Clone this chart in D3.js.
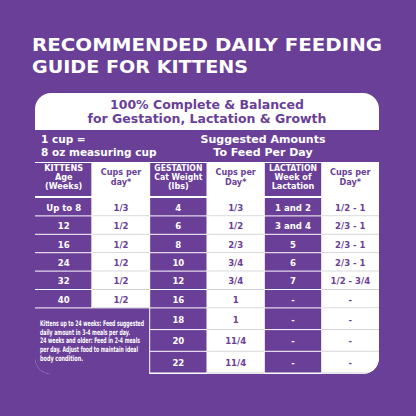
<!DOCTYPE html><html><head><meta charset="utf-8">
<script src="https://d3js.org/d3.v7.min.js"></script>
<style>body{margin:0;background:#6a3f98}</style></head><body>
<script>
const title = ["RECOMMENDED DAILY FEEDING","GUIDE FOR KITTENS"];
const subtitle = ["100% Complete & Balanced","for Gestation, Lactation & Growth"];
const bandLeft = ["1 cup =","8 oz measuring cup"];
const bandRight = ["Suggested Amounts","To Feed Per Day"];
const headers = [["KITTENS","Age","(Weeks)"],["Cups per","day*"],["GESTATION","Cat Weight","(lbs)"],["Cups per","Day*"],["LACTATION","Week of","Lactation"],["Cups per","Day*"]];
const kittenAge = ["Up to 8","12","16","24","32","40"];
const kittenCups = ["1/3","1/2","1/2","1/2","1/2","1/2"];
const gestWeight = ["4","6","8","10","12","16","18","20","22"];
const gestCups = ["1/3","1/2","2/3","3/4","3/4","1","1","11/4","11/4"];
const lactWeek = ["1 and 2","3 and 4","5","6","7","-","-","-","-"];
const lactCups = ["1/2 - 1","2/3 - 1","2/3 - 1","2/3 - 1","1/2 - 3/4","-","-","-","-"];
const note = ["Kittens up to 24 weeks: Feed suggested","daily amount in 3-4 meals per day.","24 weeks and older: Feed in 2-4 meals","per day. Adjust food to maintain ideal","body condition."];
const rowHeights = [18.4,18.4,18.4,18.4,18.4,18.4,21.7,21.7,21.7];

const P="#6a3f98", W="#fff", G="#cfcfd6";
const svg=d3.select("body").append("svg").attr("width",416).attr("height",416);
svg.append("rect").attr("width",416).attr("height",416).attr("fill",P);
const F="'DejaVu Sans Condensed','DejaVu Sans',sans-serif";
svg.selectAll(".t").data(title).join("text").attr("x",32).attr("y",(d,i)=>51+i*22)
 .attr("fill",W).attr("font-family","'DejaVu Sans',sans-serif").attr("font-weight",900).attr("font-size",18.5)
 .attr("textLength",(d,i)=>i?216:350).attr("lengthAdjust","spacingAndGlyphs").text(d=>d);
const L=35,R=379,T=93,B=374;
svg.append("clipPath").attr("id","pc").append("rect").attr("x",L).attr("y",T).attr("width",R-L).attr("height",B-T).attr("rx",16);
const g=svg.append("g").attr("clip-path","url(#pc)");
g.append("rect").attr("x",L).attr("y",T).attr("width",R-L).attr("height",B-T).attr("fill",W);
g.selectAll(".s").data(subtitle).join("text").attr("x",207).attr("y",(d,i)=>109+i*14).attr("text-anchor","middle")
 .attr("fill",P).attr("font-family","'DejaVu Sans',sans-serif").attr("font-weight",700).attr("font-size",12.5).text(d=>d);
g.append("rect").attr("x",L).attr("y",130).attr("width",R-L).attr("height",32).attr("fill",P);
g.selectAll(".bl").data(bandLeft).join("text").attr("x",41).attr("y",(d,i)=>143+i*13)
 .attr("fill",W).attr("font-family","'DejaVu Sans',sans-serif").attr("font-weight",700).attr("font-size",10.5).text(d=>d);
g.selectAll(".br").data(bandRight).join("text").attr("x",263).attr("y",(d,i)=>143+i*13).attr("text-anchor","middle")
 .attr("fill",W).attr("font-family","'DejaVu Sans',sans-serif").attr("font-weight",700).attr("font-size",11).text(d=>d);
const x=d3.scaleBand().domain(d3.range(6)).range([L,R]);
const hy0=163,hy1=197;
headers.forEach((h,c)=>{
 const purple=c%2==0;
 g.append("rect").attr("x",x(c)+(c?0.5:0)).attr("y",hy0).attr("width",x.bandwidth()-1).attr("height",hy1-hy0-1).attr("fill",purple?P:W);
 h.forEach((t,k)=>{const el=g.append("text").attr("x",x(c)+x.bandwidth()/2).attr("y",hy0+17-(h.length-1)*4.6+k*9.3).attr("text-anchor","middle")
  .attr("fill",purple?W:P).attr("font-family",F).attr("font-weight",700).attr("font-size",9).text(t);
  if(el.node().getComputedTextLength()>48) el.attr("textLength",48).attr("lengthAdjust","spacingAndGlyphs");});
});
const yStart=198;
const ys=[yStart];rowHeights.forEach(h=>ys.push(ys[ys.length-1]+h));
const cols=[kittenAge,kittenCups,gestWeight,gestCups,lactWeek,lactCups];
cols.forEach((arr,c)=>{
 const purple=c%2==0;
 arr.forEach((v,r)=>{
  const y0=ys[r],h=ys[r+1]-ys[r];
  g.append("rect").attr("x",x(c)+(c?0.5:0)).attr("y",y0).attr("width",x.bandwidth()-1).attr("height",h-1).attr("fill",purple?P:W);
  if(!purple) g.append("line").attr("x1",x(c)).attr("x2",x(c)+x.bandwidth()).attr("y1",y0+h-0.5).attr("y2",y0+h-0.5).attr("stroke",G);
  g.append("text").attr("x",x(c)+x.bandwidth()/2).attr("y",y0+h/2+3.5).attr("text-anchor","middle")
   .attr("fill",purple?W:P).attr("font-family",F).attr("font-weight",700).attr("font-size",9.5).text(v);
 });
});
g.append("rect").attr("x",L).attr("y",ys[6]).attr("width",x(2)-L-0.5).attr("height",B-ys[6]).attr("fill",P);
const noteW=[104,90,100,98,43];
g.selectAll(".n").data(note).join("text").attr("x",40).attr("y",(d,i)=>326+i*8.7)
 .attr("fill",W).attr("font-family",F).attr("font-weight",700).attr("font-size",7.6)
 .attr("textLength",(d,i)=>noteW[i]).attr("lengthAdjust","spacingAndGlyphs").text(d=>d);
</script></body></html>
